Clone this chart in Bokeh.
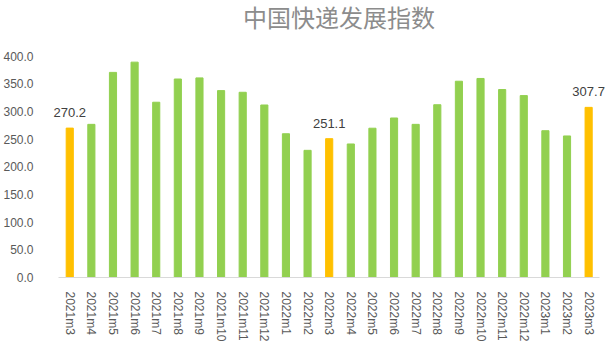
from bokeh.plotting import figure
from bokeh.models import Label, NumeralTickFormatter, ColumnDataSource, LabelSet
from bokeh.core.properties import value
from bokeh.embed import file_html
from bokeh.resources import INLINE

months = ["2021m3", "2021m4", "2021m5", "2021m6", "2021m7", "2021m8", "2021m9",
          "2021m10", "2021m11", "2021m12", "2022m1", "2022m2", "2022m3", "2022m4",
          "2022m5", "2022m6", "2022m7", "2022m8", "2022m9", "2022m10", "2022m11",
          "2022m12", "2023m1", "2023m2", "2023m3"]
values = [270.2, 277.0, 371.0, 389.5, 317.0, 359.0, 361.0,
          338.0, 335.0, 312.0, 260.0, 230.0, 251.1, 241.5,
          270.0, 288.5, 277.0, 312.5, 355.0, 360.0, 340.0,
          329.0, 265.5, 256.0, 307.7]
highlight = ["2021m3", "2022m3", "2023m3"]
y_ticks = [0, 50, 100, 150, 200, 250, 300, 350, 400]
title_text = "中国快递发展指数"

GREEN = "#92D050"
ORANGE = "#FFC000"
idx = list(range(len(months)))
colors = [ORANGE if m in highlight else GREEN for m in months]

src = ColumnDataSource(dict(x=idx, top=values, color=colors))
lab_src = ColumnDataSource(dict(
    x=[i for i, m in zip(idx, months) if m in highlight],
    y=[v for m, v in zip(months, values) if m in highlight],
    t=["%.1f" % v for m, v in zip(months, values) if m in highlight],
))

# frame: x 44..613 px, y 0..277 px
p = figure(width=613, height=344, x_range=(-0.89, 25.15), y_range=(0, 501),
           output_backend="svg", toolbar_location=None,
           min_border_left=44, min_border_right=0, min_border_top=0,
           min_border_bottom=67)
p.outline_line_color = None
p.background_fill_color = "white"
p.border_fill_color = "white"
p.xgrid.grid_line_color = None
p.ygrid.grid_line_color = None

p.vbar(x="x", top="top", width=0.33, color="color", source=src)

p.add_layout(LabelSet(x="x", y="y", text="t", source=lab_src,
                      text_align="center", text_baseline="bottom", y_offset=11,
                      text_font=value("Liberation Sans"), text_font_size=value("13px"),
                      text_color="#404040"))

p.yaxis.ticker = y_ticks
p.yaxis.bounds = (0, 400)
p.yaxis.formatter = NumeralTickFormatter(format="0.0")
p.yaxis.axis_line_color = None
p.yaxis.major_tick_line_color = None
p.yaxis.minor_tick_line_color = None
p.yaxis.major_label_standoff = 11
p.yaxis.major_label_text_font = "Liberation Sans"
p.yaxis.major_label_text_font_size = "12px"
p.yaxis.major_label_text_color = "#595959"

p.xaxis.ticker = idx
p.xaxis.major_label_overrides = {i: m for i, m in zip(idx, months)}
p.xaxis.bounds = (-0.5, len(months) - 0.5)
p.xaxis.axis_line_color = "#D9D9D9"
p.xaxis.major_tick_line_color = None
p.xaxis.minor_tick_line_color = None
p.xaxis.major_label_orientation = "vertical"
p.xaxis.major_label_standoff = 8
p.xaxis.major_label_text_font = "Liberation Sans"
p.xaxis.major_label_text_font_size = "12px"
p.xaxis.major_label_text_color = "#595959"

p.add_layout(Label(x=12.45, y=472, text=title_text, text_align="center",
                   text_baseline="middle", text_font="Noto Sans CJK SC",
                   text_font_size="24px", text_color="#8C8C8C"))

open("out.html", "w").write(file_html(p, INLINE))
